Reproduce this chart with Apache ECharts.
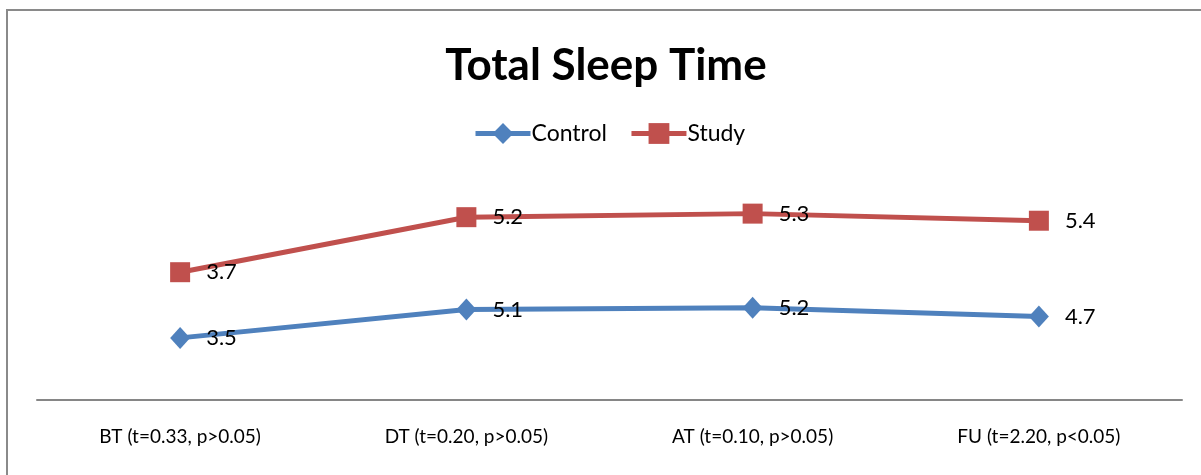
<!DOCTYPE html>
<html>
<head>
<meta charset="utf-8">
<script src="https://cdn.jsdelivr.net/npm/echarts@6/dist/echarts.min.js"></script>
<style>
html,body{margin:0;padding:0;background:#fff;}
#c{width:1201px;height:475px;}
</style>
</head>
<body>
<div id="c"></div>
<script>
var categories = ['BT (t=0.33, p>0.05)', 'DT (t=0.20, p>0.05)', 'AT (t=0.10, p>0.05)', 'FU (t=2.20, p<0.05)'];
var controlValues = [3.5, 5.1, 5.2, 4.7];
var studyValues = [3.7, 5.2, 5.3, 5.4];
var titleText = 'Total Sleep Time';

var chart = echarts.init(document.getElementById('c'));
var font = 'Lato, "Open Sans", sans-serif';
chart.setOption({
  backgroundColor: '#ffffff',
  animation: false,
  graphic: [{
    type: 'rect',
    shape: {x: 7, y: 10, width: 1300, height: 600},
    style: {fill: 'none', stroke: '#8a8a8a', lineWidth: 2},
    silent: true
  }],
  title: {
    text: titleText,
    left: 601,
    textAlign: 'center',
    top: 39,
    textStyle: {fontFamily: font, fontWeight: 'bold', fontSize: 44, color: '#000'}
  },
  legend: {
    left: 468,
    top: 117,
    itemWidth: 55,
    itemHeight: 26,
    itemGap: 22,
    textStyle: {fontFamily: font, fontSize: 23, color: '#000', padding: [0,0,0,-4]},
    data: [
      {name: 'Control', lineStyle: {width: 5}},
      {name: 'Study', lineStyle: {width: 5}}
    ]
  },
  grid: {left: 37, right: 19, top: 187, bottom: 75, containLabel: false},
  xAxis: {
    type: 'category',
    data: categories,
    boundaryGap: true,
    axisLine: {lineStyle: {color: '#868686', width: 2}},
    axisTick: {show: false},
    axisLabel: {fontFamily: font, fontSize: 19, color: '#000', margin: 27}
  },
  yAxis: {
    type: 'value',
    min: 0,
    max: 12,
    show: false,
    splitLine: {show: false}
  },
  series: [{
    name: 'Control',
    type: 'line',
    stack: 'total',
    data: controlValues,
    symbol: 'diamond',
    symbolSize: [20, 22],
    lineStyle: {width: 5, color: '#4F81BD'},
    itemStyle: {color: '#4F81BD'},
    label: {show: true, position: 'right', distance: 16, fontFamily: font, fontSize: 22, color: '#000'}
  }, {
    name: 'Study',
    type: 'line',
    stack: 'total',
    data: studyValues,
    symbol: 'rect',
    symbolSize: 20,
    lineStyle: {width: 5, color: '#C0504D'},
    itemStyle: {color: '#C0504D'},
    label: {show: true, position: 'right', distance: 16, fontFamily: font, fontSize: 22, color: '#000'}
  }]
});
</script>
</body>
</html>
